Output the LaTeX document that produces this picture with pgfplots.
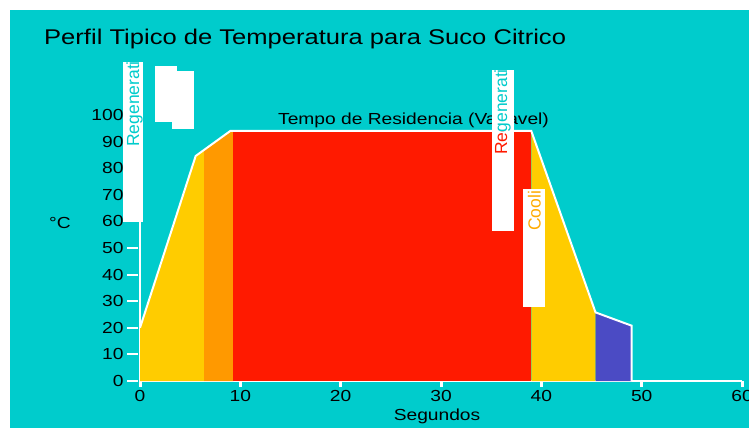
\documentclass[border=0pt]{standalone}
\usepackage{pgfplots}
\pgfplotsset{compat=1.18}
\usepackage{fontspec}
\setmainfont{Liberation Sans}[FakeStretch=1.2]
\newfontfamily\rotfont{Liberation Sans}
\definecolor{bgteal}{HTML}{00CCCC}
\definecolor{cyellow}{HTML}{FFCC00}
\definecolor{corange}{HTML}{FF9900}
\definecolor{cred}{HTML}{FF1A00}
\definecolor{cblue}{HTML}{4B4BC4}
\definecolor{ccool}{HTML}{FFAA00}
\newcommand\tf{\fontsize{16bp}{19bp}\selectfont}
\newcommand\rf{\rotfont\fontsize{17.5bp}{20bp}\selectfont}
\begin{document}
\begin{tikzpicture}
\begin{scope}[x=1bp,y=-1bp]
\fill[white] (0,0) rectangle (749,428);
\fill[bgteal] (10,10) rectangle (749,428);
\node[anchor=base west, inner sep=0, font=\fontsize{21.3bp}{25bp}\selectfont] at (44,44) {Perfil Tipico de Temperatura para Suco Citrico};
\node[anchor=center, inner sep=0, font=\tf] at (60,223) {°C};
\node[anchor=base, inner sep=0, font=\tf] at (437,420) {Segundos};
\end{scope}
\begin{axis}[at={(140bp,-381bp)}, anchor=south west, scale only axis,
  width=602bp, height=266bp,
  xmin=0, xmax=60, ymin=0, ymax=100,
  axis x line=bottom, axis y line=left,
  axis line style={-, white, line width=2bp},
  xtick={0,10,...,60}, ytick={0,10,...,100},
  tick align=outside, major tick length=6bp,
  xtick style={white, line width=3bp}, ytick style={draw=none},
  ticklabel style={font=\tf, text=black},
  yticklabel style={xshift=-7bp},
  /pgf/number format/assume math mode=true,
  clip=false]
\addplot[fill=cyellow, draw=none] coordinates {(0,0) (0,20) (5.55,84.6) (6.4,87) (6.4,0)} -- cycle;
\addplot[fill=corange, draw=none] coordinates {(6.4,0) (6.4,87) (9.0,94) (9.3,94) (9.3,0)} -- cycle;
\addplot[fill=cred, draw=none] coordinates {(9.3,0) (9.3,94) (39,94) (39,0)} -- cycle;
\addplot[fill=cyellow, draw=none] coordinates {(39,0) (39,94) (45.4,25.8) (45.4,0)} -- cycle;
\addplot[fill=cblue, draw=none] coordinates {(45.4,0) (45.4,25.8) (49,20.8) (49,0)} -- cycle;
\addplot[white, line width=2bp] coordinates {(0,20) (5.55,84.6) (9.0,94) (39,94) (45.4,25.8) (49,20.8) (49,0)};
\pgfplotsinvokeforeach{0,10,...,100}{\draw[white, line width=2bp] (axis cs:0,#1) ++(-2bp,0) -- ++(-11bp,0);}
\end{axis}
\begin{scope}[x=1bp,y=-1bp]
\node[anchor=base west, inner sep=0, font=\tf] at (278,124) {Tempo de Residencia (Variavel)};
% box 1
\fill[white] (123,62) rectangle (143,222);
\begin{scope}
\clip (123,62) rectangle (143,222);
\node[rotate=90, anchor=base west, inner sep=0, text=bgteal, font=\rf] at (139,147) {Regeneration};
\end{scope}
% box 2
\fill[white] (155,66) rectangle (177,122);
\fill[white] (172,71) rectangle (194,129);
% box 3
\fill[white] (491.5,70) rectangle (513.5,231);
\begin{scope}
\clip (491.5,70) rectangle (513.5,131);
\node[rotate=90, anchor=base west, inner sep=0, text=bgteal, font=\rf] at (507,155) {Regeneration};
\end{scope}
\begin{scope}
\clip (491.5,131) rectangle (513.5,231);
\node[rotate=90, anchor=base west, inner sep=0, text=cred, font=\rf] at (507,155) {Regeneration};
\end{scope}
% box 4
\fill[white] (522.5,189) rectangle (545,307);
\begin{scope}
\clip (522.5,189) rectangle (545,307);
\node[rotate=90, anchor=base west, inner sep=0, text=ccool, font=\rf] at (540.5,231) {Cooling};
\end{scope}
\pgfresetboundingbox
\path[use as bounding box] (0,0) rectangle (749,428);
\end{scope}
\end{tikzpicture}
\end{document}
